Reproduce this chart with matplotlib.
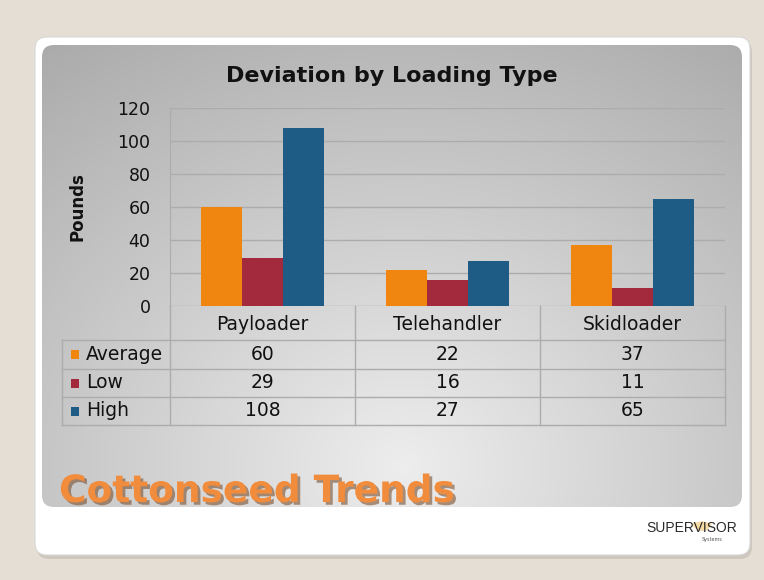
import numpy as np
import matplotlib
matplotlib.use("Agg")
import matplotlib.pyplot as plt
import matplotlib.patheffects as pe
from matplotlib.patches import FancyBboxPatch, Rectangle, Wedge

# data
categories = ["Payloader", "Telehandler", "Skidloader"]
series = ["Average", "Low", "High"]
average = [60, 22, 37]
low = [29, 16, 11]
high = [108, 27, 65]
colors = ["#F0860F", "#A32A3C", "#1E5C85"]
yticks = [0, 20, 40, 60, 80, 100, 120]

W, H = 764, 580
fig = plt.figure(figsize=(W / 100, H / 100), dpi=100)
fig.patch.set_facecolor("#E4DED4")

# background axes in pixel coordinates
bg = fig.add_axes([0, 0, 1, 1])
bg.set_xlim(0, W)
bg.set_ylim(H, 0)
bg.axis("off")

# white card with shadow
shadow = FancyBboxPatch((37, 40), 715, 519, boxstyle="round,pad=0,rounding_size=12",
                        fc="#b8b2a8", ec="none", alpha=0.5)
bg.add_patch(shadow)
card = FancyBboxPatch((35, 37), 715, 518, boxstyle="round,pad=0,rounding_size=12",
                      fc="white", ec="#d8d8d8", lw=0.8)
bg.add_patch(card)

# gray gradient panel
yy, xx = np.mgrid[0:462, 0:700]
cx, cy = 360, 420
d = np.sqrt(((xx - cx) / 560.0) ** 2 + ((yy - cy) / 480.0) ** 2)
val = np.clip(0.93 - 0.24 * d, 0.65, 0.93)
img = np.dstack([val, val, val])
panel = FancyBboxPatch((42, 45), 700, 462, boxstyle="round,pad=0,rounding_size=12",
                       fc="none", ec="none")
bg.add_patch(panel)
im = bg.imshow(img, extent=(42, 742, 507, 45), aspect="auto", zorder=1)
im.set_clip_path(panel)

# title
bg.text(392, 76, "Deviation by Loading Type", ha="center", va="center",
        fontsize=16, fontweight="bold", color="#111111", zorder=3)

# table (pixel positions)
col_x = [170, 355, 540, 725]
row_y = [306, 340, 369, 397, 425]
grid_c = "#acacac"
for y in row_y[1:]:
    bg.plot([62, 725], [y, y], color=grid_c, lw=1, zorder=3)
for x in col_x:
    bg.plot([x, x], [306, 425], color=grid_c, lw=1, zorder=3)
bg.plot([62, 62], [340, 425], color=grid_c, lw=1, zorder=3)

for i, name in enumerate(categories):
    xc = (col_x[i] + col_x[i + 1]) / 2
    bg.text(xc, 325, name, ha="center", va="center", fontsize=13.5, color="#111111", zorder=4)

values = [average, low, high]
for r, (name, vals) in enumerate(zip(series, values)):
    yc = (row_y[r + 1] + row_y[r + 2]) / 2
    bg.add_patch(Rectangle((71, yc - 4.5), 8, 9, fc=colors[r], ec="none", zorder=4))
    bg.text(86, yc, name, ha="left", va="center", fontsize=13.5, color="#111111", zorder=4)
    for i, v in enumerate(vals):
        xc = (col_x[i] + col_x[i + 1]) / 2
        bg.text(xc, yc, str(v), ha="center", va="center", fontsize=13.5, color="#111111", zorder=4)

# big orange heading with shadow
bg.text(59, 492, "Cottonseed Trends", ha="left", va="center", fontsize=27,
        fontweight="bold", color="#F08C3C", zorder=5,
        path_effects=[pe.withSimplePatchShadow(offset=(2, -2), shadow_rgbFace="#7a5030", alpha=0.6)])

# logo
bg.add_patch(Wedge((702, 521), 10, 15, 165, fc="#f2c46a", ec="none", alpha=0.6, zorder=3))
bg.text(692, 528, "SUPERVISOR", ha="center", va="center", fontsize=10,
        family="Liberation Sans", color="#2a2a2a", zorder=4)
bg.text(712, 540, "Systems", ha="center", va="center", fontsize=3.5, color="#555555", zorder=4)

# bar chart
ax = fig.add_axes([170 / W, 1 - 306 / H, 555 / W, 198 / H])
ax.set_facecolor("none")
x = np.arange(len(categories))
bw = 0.222
for k, (vals, c) in enumerate(zip(values, colors)):
    ax.bar(x + (k - 1) * bw, vals, width=bw, color=c, zorder=3)
ax.set_xlim(-0.5, 2.5)
ax.set_ylim(0, 120)
ax.set_yticks(yticks)
ax.set_xticks([])
ax.yaxis.grid(True, color="#acacac", lw=1, zorder=0)
ax.tick_params(axis="y", length=0, labelsize=12.5, pad=14, labelcolor="#111111")
for s in ["top", "right", "bottom"]:
    ax.spines[s].set_visible(False)
ax.spines["left"].set_color("#acacac")
ax.set_ylabel("Pounds", fontsize=12, fontweight="bold", labelpad=22, color="#111111")

fig.savefig("out.png", dpi=100)
